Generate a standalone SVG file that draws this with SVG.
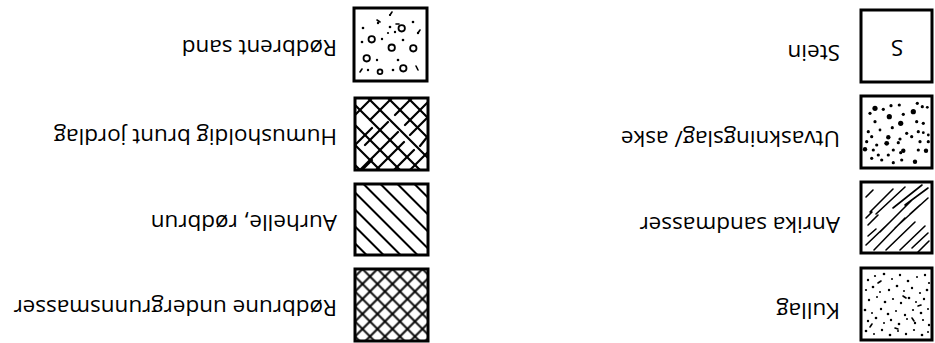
<svg xmlns="http://www.w3.org/2000/svg" width="935" height="343" viewBox="0 0 935 343">
<style>
.box{fill:#fff;stroke:#000;stroke-width:3}
.frame{fill:none;stroke:#000;stroke-width:3}
.lbl{font-family:"Open Sans","Noto Sans",sans-serif;font-size:22.5px;fill:#000}
.ln{stroke:#000;stroke-width:2.2;stroke-linecap:round;fill:none}
.thin{stroke:#000;stroke-width:1.6;stroke-linecap:round;fill:none}
.dot{fill:#000}
.ring{fill:none;stroke:#000;stroke-width:1.8}
</style>
<defs>
<pattern id="cross" patternUnits="userSpaceOnUse" width="10.6" height="10.6" patternTransform="translate(355 269) rotate(45)">
<path d="M0 5.3H10.6M5.3 0V10.6" stroke="#000" stroke-width="2"/>
</pattern>
<pattern id="diag" patternUnits="userSpaceOnUse" width="12" height="12" patternTransform="translate(355 184) rotate(-45)">
<path d="M6 0V12" stroke="#000" stroke-width="2"/>
</pattern>
<clipPath id="cHum"><rect x="355" y="98" width="73" height="72"/></clipPath>
</defs>
<rect width="935" height="343" fill="#fff"/>
<g id="connectors"/>

<g id="stein">
<rect class="box" x="861" y="10" width="71" height="72" stroke-width="2"/>
<text class="lbl" x="897" y="48" text-anchor="middle" transform="rotate(180 897 48)" dy="8">S</text>
<text class="lbl" x="840" y="45" transform="rotate(180 840 45)">Stein</text>
</g>

<g id="utvaskningslag">
<rect class="box" x="861" y="96" width="71" height="72"/>
<g class="dot">
<circle cx="875" cy="108.3" r="2.6"/><circle cx="883.3" cy="109.3" r="1.6"/><circle cx="891" cy="105.7" r="1.6"/><circle cx="899.3" cy="105" r="1.6"/><circle cx="917.3" cy="103.3" r="1.6"/><circle cx="922.3" cy="106.7" r="1.6"/><circle cx="927.3" cy="107.3" r="1.4"/><circle cx="870" cy="113.3" r="1.6"/><circle cx="889.3" cy="116.7" r="2.6"/><circle cx="903.3" cy="114.3" r="1.6"/><circle cx="913.3" cy="111.7" r="2.6"/><circle cx="875" cy="121.7" r="1.6"/><circle cx="900.7" cy="123.3" r="2.6"/><circle cx="916.7" cy="121.7" r="1.6"/><circle cx="923.3" cy="123.3" r="1.6"/><circle cx="892.3" cy="127.7" r="1.6"/><circle cx="880" cy="130" r="1.4"/><circle cx="868.3" cy="131.7" r="1.6"/><circle cx="906.7" cy="133.3" r="1.6"/><circle cx="918.3" cy="131.7" r="1.6"/><circle cx="923.3" cy="132.7" r="1.4"/><circle cx="928.3" cy="135" r="1.4"/><circle cx="871.7" cy="136.7" r="1.6"/><circle cx="888.3" cy="137.3" r="2.2"/><circle cx="900" cy="139" r="1.6"/><circle cx="911.7" cy="136.7" r="1.6"/><circle cx="866.7" cy="141.7" r="1.6"/><circle cx="886.7" cy="143.3" r="2.4"/><circle cx="898.3" cy="142.7" r="1.6"/><circle cx="876.7" cy="145" r="1.6"/><circle cx="920" cy="141.7" r="1.6"/><circle cx="928.3" cy="141.7" r="1.6"/><circle cx="865" cy="149.3" r="2.2"/><circle cx="873.3" cy="150" r="1.6"/><circle cx="893.3" cy="150" r="1.6"/><circle cx="903.3" cy="150.7" r="2.2"/><circle cx="918.3" cy="150" r="1.6"/><circle cx="926" cy="150.7" r="2.2"/><circle cx="878.3" cy="155" r="1.6"/><circle cx="888.3" cy="155" r="1.6"/><circle cx="900.7" cy="152.7" r="1.6"/><circle cx="881.7" cy="160" r="1.6"/><circle cx="893.3" cy="162.7" r="1.6"/><circle cx="901.7" cy="160" r="1.6"/><circle cx="915" cy="161.7" r="2.2"/><circle cx="871.7" cy="158.3" r="1.6"/>
</g>
<text class="lbl" x="840" y="131" transform="rotate(180 840 131)">Utvaskningslag/ aske</text>
</g>

<g id="anrika">
<rect class="box" x="861" y="182" width="71" height="71"/>
<g class="thin">
<path d="M866 197L873 190M870 212L893 189M876 214L905 187M893 208L922 185M905 205L928 188M868 225L878 215M880 232L912 200M895 228L928 198M866 245L890 222M874 250L905 218M886 250L915 222M900 250L925 226M912 248L928 233M868 236L876 229M918 252L929 241M884 198L888 194M910 214L920 205M866 218L872 212"/>
</g>
<text class="lbl" x="840" y="217" transform="rotate(180 840 217)">Anrika sandmasser</text>
</g>

<g id="kullag">
<rect class="box" x="861" y="268" width="71" height="72"/>
<g class="dot">
<circle cx="868" cy="280" r="1.2"/><circle cx="875" cy="276" r="1.1"/><circle cx="884" cy="274" r="1.3"/><circle cx="892" cy="279" r="1"/><circle cx="900" cy="275" r="1.2"/><circle cx="908" cy="281" r="1.3"/><circle cx="917" cy="277" r="1"/><circle cx="925" cy="275" r="1.2"/><circle cx="929" cy="283" r="1.1"/>
<circle cx="866" cy="290" r="1.1"/><circle cx="873" cy="287" r="1.3"/><circle cx="880" cy="292" r="1"/><circle cx="889" cy="290" r="1.2"/><circle cx="897" cy="286" r="1.3"/><circle cx="904" cy="291" r="1"/><circle cx="912" cy="288" r="1.2"/><circle cx="920" cy="293" r="1.1"/><circle cx="927" cy="290" r="1.3"/>
<circle cx="869" cy="300" r="1.2"/><circle cx="877" cy="297" r="1"/><circle cx="885" cy="302" r="1.3"/><circle cx="893" cy="299" r="1.1"/><circle cx="901" cy="303" r="1.2"/><circle cx="909" cy="298" r="1.3"/><circle cx="916" cy="302" r="1"/><circle cx="924" cy="299" r="1.2"/>
<circle cx="865" cy="310" r="1.3"/><circle cx="872" cy="313" r="1"/><circle cx="881" cy="309" r="1.2"/><circle cx="888" cy="314" r="1.3"/><circle cx="896" cy="311" r="1"/><circle cx="905" cy="315" r="1.2"/><circle cx="913" cy="310" r="1.1"/><circle cx="921" cy="313" r="1.3"/><circle cx="928" cy="309" r="1"/>
<circle cx="868" cy="321" r="1.2"/><circle cx="876" cy="318" r="1.3"/><circle cx="884" cy="323" r="1"/><circle cx="891" cy="320" r="1.2"/><circle cx="899" cy="324" r="1.3"/><circle cx="907" cy="319" r="1"/><circle cx="915" cy="323" r="1.2"/><circle cx="923" cy="320" r="1.1"/><circle cx="929" cy="325" r="1.2"/>
<circle cx="866" cy="331" r="1.3"/><circle cx="874" cy="334" r="1"/><circle cx="882" cy="330" r="1.2"/><circle cx="890" cy="335" r="1.3"/><circle cx="898" cy="331" r="1"/><circle cx="906" cy="334" r="1.2"/><circle cx="914" cy="330" r="1.1"/><circle cx="922" cy="335" r="1.3"/><circle cx="928" cy="332" r="1"/>
</g>
<path class="thin" d="M878 283l3 -2M903 296l3 2M918 306l3 -1M870 327l2 -3M895 328l3 1M912 318l2 3" stroke-width="1.1"/>
<text class="lbl" x="840" y="303" transform="rotate(180 840 303)">Kullag</text>
</g>

<g id="rodbrent-sand">
<rect class="box" x="354" y="8" width="73" height="73"/>
<g class="ring">
<circle cx="371.7" cy="39.3" r="3.2"/><circle cx="401.7" cy="28.3" r="3.2"/><circle cx="391.7" cy="47.7" r="3.2"/><circle cx="413.3" cy="48.3" r="3.2"/><circle cx="366.7" cy="58.3" r="3.2"/><circle cx="403.3" cy="68.3" r="3.2"/><circle cx="380" cy="71.7" r="2.4"/>
</g>
<g class="dot">
<circle cx="363" cy="28" r="1.3"/><circle cx="378" cy="23" r="1.2"/><circle cx="390" cy="27" r="1.3"/><circle cx="390" cy="15" r="1.1"/><circle cx="413" cy="22" r="1.3"/><circle cx="418" cy="33" r="1.2"/><circle cx="362" cy="42" r="1.3"/><circle cx="382" cy="39" r="1.2"/><circle cx="403" cy="40" r="1.3"/><circle cx="377" cy="60" r="1.2"/><circle cx="398" cy="60" r="1.3"/><circle cx="368" cy="70" r="1.2"/><circle cx="393" cy="70" r="1.3"/><circle cx="388" cy="33" r="1.1"/><circle cx="395" cy="32" r="1.2"/>
</g>
<path class="thin" d="M416 66l2 4M377 20l3 2M392 12l-2 3M420 30l-2 3M360 72l2 -3M396 24l3 0" stroke-width="1.2"/>
<text class="lbl" x="337" y="40" transform="rotate(180 337 40)">Rødbrent sand</text>
</g>

<g id="humusholdig">
<rect class="box" x="355" y="98" width="73" height="72"/>
<g class="ln" clip-path="url(#cHum)">
<path d="M288 98L360 170M308 98L380 170M328 98L400 170M348 98L420 170M368 98L440 170M388 98L460 170M408 98L480 170"/>
<path d="M372 98L355 115M392 98L370 120M372 128L355 145M412 98L395 115M388 122L365 145M380 150L360 170M432 98L405 125M398 132L378 152M372 160L362 170M428 117L410 135M404 142L376 170M428 136L420 146M414 150L394 170M428 152L410 170"/>
</g>
<text class="lbl" x="337" y="129" transform="rotate(180 337 129)">Humusholdig brunt jordlag</text>
</g>

<g id="aurhelle">
<rect x="355" y="184" width="73" height="71" fill="url(#diag)"/>
<rect class="frame" x="355" y="184" width="73" height="71"/>
<text class="lbl" x="337" y="215" transform="rotate(180 337 215)">Aurhelle, rødbrun</text>
</g>

<g id="rodbrune">
<rect x="355" y="269" width="73" height="72" fill="url(#cross)"/>
<rect class="frame" x="355" y="269" width="73" height="72"/>
<text class="lbl" x="337" y="300" transform="rotate(180 337 300)">Rødbrune undergrunnsmasser</text>
</g>
</svg>
